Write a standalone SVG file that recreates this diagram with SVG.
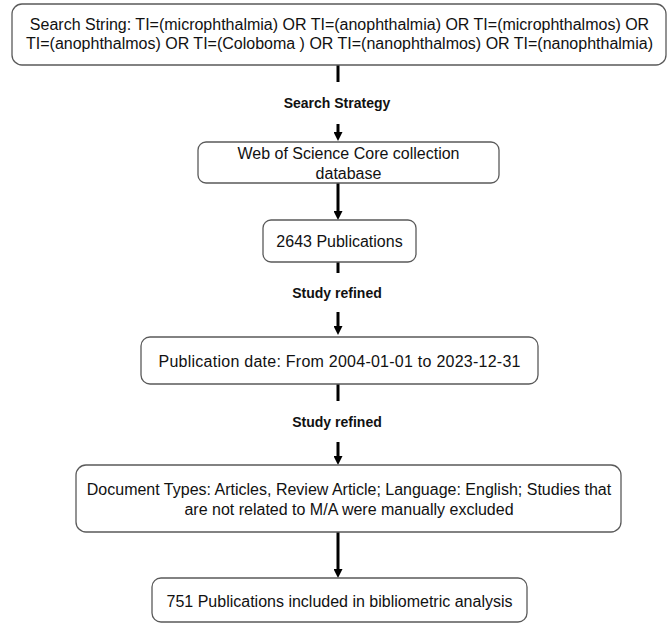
<svg xmlns="http://www.w3.org/2000/svg" width="669" height="625" viewBox="0 0 669 625">
<style>
.box{fill:#fff;stroke:#5a5a5a;stroke-width:1.3}
.t{font-family:"Liberation Sans",Arial,sans-serif;font-size:16px;fill:#111;text-anchor:middle}
.lbl{font-family:"Liberation Sans",Arial,sans-serif;font-size:14px;font-weight:bold;fill:#111;text-anchor:middle}
.c{stroke:#000;stroke-width:3;fill:none}
</style>
<defs>
<marker id="ah" viewBox="0 0 10 10" refX="0" refY="5" markerWidth="9" markerHeight="9" markerUnits="userSpaceOnUse" orient="auto">
<path d="M0,0 L10,5 L0,10 z" fill="#000"/>
</marker>
</defs>
<rect width="669" height="625" fill="#fff"/>
<g id="connectors">
<line class="c" x1="338" y1="65" x2="338" y2="82"/>
<line class="c" x1="338" y1="124" x2="338" y2="132" marker-end="url(#ah)"/>
<line class="c" x1="338" y1="183" x2="338" y2="211" marker-end="url(#ah)"/>
<line class="c" x1="338" y1="262" x2="338" y2="273"/>
<line class="c" x1="338" y1="312" x2="338" y2="326" marker-end="url(#ah)"/>
<line class="c" x1="338" y1="384" x2="338" y2="401"/>
<line class="c" x1="338" y1="442" x2="338" y2="456" marker-end="url(#ah)"/>
<line class="c" x1="338" y1="532" x2="338" y2="569" marker-end="url(#ah)"/>
</g>
<g id="labels">
<text class="lbl" x="337" y="108">Search Strategy</text>
<text class="lbl" x="337" y="298">Study refined</text>
<text class="lbl" x="337" y="427">Study refined</text>
</g>
<g id="n1">
<rect class="box" x="12" y="4" width="654" height="61" rx="10"/>
<text class="t" x="339.5" y="30">Search String: TI=(microphthalmia) OR TI=(anophthalmia) OR TI=(microphthalmos) OR</text>
<text class="t" x="339.5" y="49">TI=(anophthalmos) OR TI=(Coloboma ) OR TI=(nanophthalmos) OR TI=(nanophthalmia)</text>
</g>
<g id="n2">
<rect class="box" x="198" y="142" width="301" height="41" rx="8"/>
<text class="t" x="348.5" y="159">Web of Science Core collection</text>
<text class="t" x="348.5" y="179">database</text>
</g>
<g id="n3">
<rect class="box" x="263" y="220" width="153" height="42" rx="8"/>
<text class="t" x="339.5" y="247">2643 Publications</text>
</g>
<g id="n4">
<rect class="box" x="141" y="337" width="397" height="47" rx="9"/>
<text class="t" x="339.5" y="367" textLength="362" lengthAdjust="spacing">Publication date: From 2004-01-01 to 2023-12-31</text>
</g>
<g id="n5">
<rect class="box" x="76" y="465" width="545" height="67" rx="10"/>
<text class="t" x="349" y="495">Document Types: Articles, Review Article; Language: English; Studies that</text>
<text class="t" x="349" y="515">are not related to M/A were manually excluded</text>
</g>
<g id="n6">
<rect class="box" x="152" y="578" width="375" height="44" rx="9"/>
<text class="t" x="339.5" y="607">751 Publications included in bibliometric analysis</text>
</g>
</svg>
